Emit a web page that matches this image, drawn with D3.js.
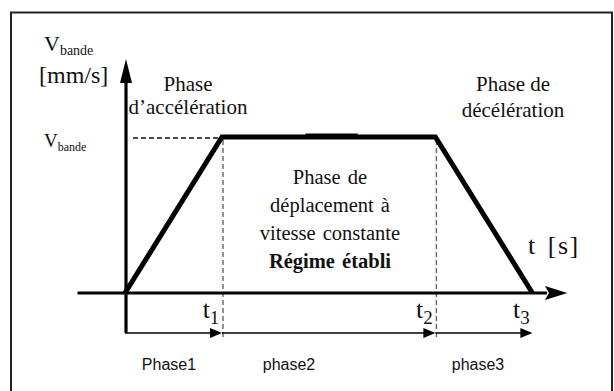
<!DOCTYPE html>
<html><head><meta charset="utf-8">
<script src="https://cdn.jsdelivr.net/npm/d3@7"></script>
<style>body{margin:0;background:#fff}svg{display:block}</style>
</head><body>
<script>
// Data
const profileT = [0, 1, 3.2, 4.2];
const profileV = [0, 1, 1, 0];
const tickNames = ["t", "t", "t"];
const tickSubs = ["1", "2", "3"];
const tickTimes = [1, 3.2, 4.2];
const phaseLabels = ["Phase1", "phase2", "phase3"];
const phaseStarts = [0, 1, 3.2];
const phaseEnds = [1, 3.2, 4.2];
const centerLines = ["Phase de", "déplacement à", "vitesse constante", "Régime établi"];
const accLines = ["Phase", "d\u2019accélération"];
const decLines = ["Phase de", "décélération"];

const W = 614, H = 391;
const x = d3.scaleLinear().domain([0, 1]).range([125, 222]);
const y = d3.scaleLinear().domain([0, 1]).range([293, 137]);
const SF = "Liberation Serif";
const SS = "Liberation Sans";

const svg = d3.select("body").append("svg").attr("width", W).attr("height", H);
svg.append("rect").attr("x", 11).attr("y", 12.5).attr("width", 601).attr("height", 420)
  .attr("fill", "none").attr("stroke", "#222").attr("stroke-width", 2);

// dashed guides
svg.append("line").attr("x1", 133).attr("x2", x(profileT[1])).attr("y1", y(1)+1).attr("y2", y(1)+1)
  .attr("stroke", "#111").attr("stroke-width", 1.6).attr("stroke-dasharray", "5,3");
[profileT[1], profileT[2]].forEach(t => {
  svg.append("line").attr("x1", x(t)+1).attr("x2", x(t)+1).attr("y1", y(1)+3).attr("y2", y(-0.3))
    .attr("stroke", "#666").attr("stroke-width", 1.4).attr("stroke-dasharray", "5,3");
});

// x axis
const xa0 = x(-0.49), xa1 = x(4.35);
svg.append("line").attr("x1", xa0).attr("x2", xa1).attr("y1", y(0)).attr("y2", y(0))
  .attr("stroke", "#000").attr("stroke-width", 3.2);
svg.append("path").attr("d", `M${x(4.56)},${y(0)} L${xa1-2},${y(0)-7} L${xa1+2},${y(0)} L${xa1-2},${y(0)+7} Z`).attr("fill", "#000");

// y axis
const yTop = y(1.5);
svg.append("line").attr("x1", x(0)+1).attr("x2", x(0)+1).attr("y1", yTop+20).attr("y2", y(-0.256))
  .attr("stroke", "#000").attr("stroke-width", 3.2);
svg.append("path").attr("d", `M${x(0)+1},${yTop} L${x(0)+7},${yTop+24} L${x(0)-5},${yTop+24} Z`).attr("fill", "#000");

// profile
const line = d3.line().x((d, i) => x(profileT[i])).y((d, i) => y(profileV[i]));
svg.append("path").datum(profileV).attr("d", line).attr("fill", "none")
  .attr("stroke", "#000").attr("stroke-width", 5).attr("stroke-linejoin", "miter");
svg.append("line").attr("x1", x(1.86)).attr("x2", x(2.4)).attr("y1", y(1)-1.5).attr("y2", y(1)-1.5)
  .attr("stroke", "#000").attr("stroke-width", 4);

// phase arrows
const ay = y(-0.256);
phaseStarts.forEach((s, i) => {
  const xs = x(s), xe = x(phaseEnds[i]);
  svg.append("line").attr("x1", xs).attr("x2", xe - 10).attr("y1", ay).attr("y2", ay)
    .attr("stroke", "#000").attr("stroke-width", 1.6);
  svg.append("path").attr("d", `M${xe},${ay} L${xe-12},${ay-5} L${xe-12},${ay+5} Z`).attr("fill", "#000");
});

// tick labels
tickTimes.forEach((t, i) => {
  const g = svg.append("text").attr("font-family", SF).attr("x", x(t) - 11).attr("y", 318)
    .attr("font-size", 26).attr("text-anchor", "middle").attr("fill", "#111");
  g.append("tspan").text(tickNames[i]);
  g.append("tspan").attr("font-size", 19).attr("dy", 6).text(tickSubs[i]);
});

// phase labels
phaseLabels.forEach((p, i) => {
  const cx = [169, 289, 478][i];
  svg.append("text").attr("font-family", SS).attr("x", cx).attr("y", 370).attr("text-anchor", "middle")
    .attr("font-size", 16).attr("fill", "#111").text(p);
});

// y label
const v1 = svg.append("text").attr("font-family", SF).attr("x", 44).attr("y", 51)
  .attr("font-size", 22).attr("fill", "#111");
v1.append("tspan").text("V");
v1.append("tspan").attr("font-size", 14).attr("dy", 4).text("bande");
svg.append("text").attr("font-family", SF).attr("x", 39).attr("y", 83)
  .attr("font-size", 24).attr("fill", "#111").text("[mm/s]");
const v2 = svg.append("text").attr("font-family", SF).attr("x", 44).attr("y", 147)
  .attr("font-size", 19).attr("fill", "#111");
v2.append("tspan").text("V");
v2.append("tspan").attr("font-size", 12).attr("dy", 4).text("bande");

// phase annotations
accLines.forEach((l, i) => svg.append("text").attr("font-family", SF).attr("x", 188).attr("y", 91 + i * 23)
  .attr("text-anchor", "middle").attr("font-size", 21).attr("fill", "#111").text(l));
decLines.forEach((l, i) => svg.append("text").attr("font-family", SF).attr("x", 513).attr("y", 91 + i * 26)
  .attr("text-anchor", "middle").attr("font-size", 21).attr("fill", "#111").text(l));
centerLines.forEach((l, i) => svg.append("text").attr("font-family", SF).attr("x", 330).attr("y", 184 + i * 28)
  .attr("text-anchor", "middle").attr("font-size", 20.5).attr("word-spacing", 2)
  .attr("font-weight", i === 3 ? "bold" : "normal").attr("fill", "#111").text(l));

svg.append("text").attr("font-family", SF).attr("x", 528).attr("y", 254)
  .attr("font-size", 26).attr("letter-spacing", 1.5).attr("word-spacing", 3).attr("fill", "#111").text("t [s]");
</script>
</body></html>
